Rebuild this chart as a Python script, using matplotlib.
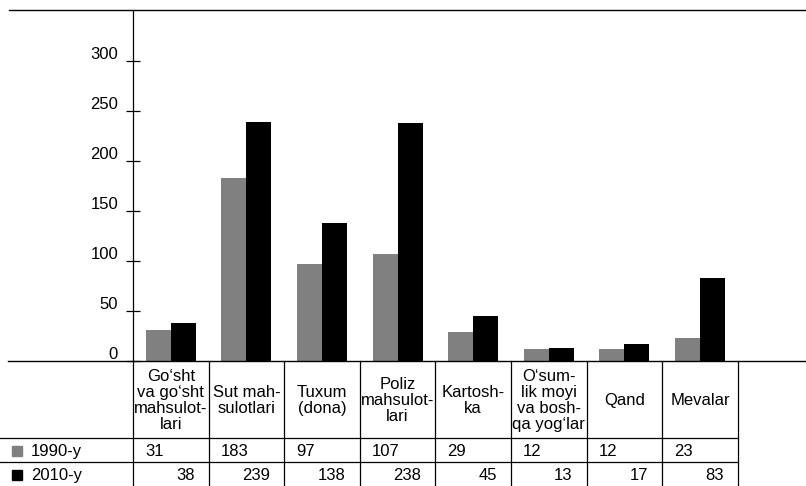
"""Grouped bar chart with a data table underneath (1990 vs 2010)."""
import matplotlib
matplotlib.use("Agg")
import matplotlib.pyplot as plt
from matplotlib.lines import Line2D
from matplotlib.transforms import ScaledTranslation, blended_transform_factory

plt.rcParams["font.family"] = ["Liberation Sans", "DejaVu Sans"]
NARROW = ["Liberation Sans Narrow", "Liberation Sans", "DejaVu Sans"]

categories = [
    "Go‘sht\nva go‘sht\nmahsulot-\nlari",
    "Sut mah-\nsulotlari",
    "Tuxum\n(dona)",
    "Poliz\nmahsulot-\nlari",
    "Kartosh-\nka",
    "O‘sum-\nlik moyi\nva bosh-\nqa yog‘lar",
    "Qand",
    "Mevalar",
]
values_1990 = [31, 183, 97, 107, 29, 12, 12, 23]
values_2010 = [38, 239, 138, 238, 45, 13, 17, 83]
series_labels = ["1990-y", "2010-y"]
yticks = [0, 50, 100, 150, 200, 250, 300]

GRAY = "#808080"
BLACK = "#000000"
W, H, DPI = 806, 486, 100

fig = plt.figure(figsize=(W / DPI, H / DPI), dpi=DPI)
fig.patch.set_facecolor("white")

# plot area: x from 133px to right edge, y from 10px to 361px
ax = fig.add_axes([133 / W, (H - 361) / H, 1 - 133 / W, 351 / H])
n = len(categories)
x = [i + 0.5 for i in range(n)]
bw = 0.33
ax.bar([v - bw / 2 for v in x], values_1990, width=bw, color=GRAY, linewidth=0)
ax.bar([v + bw / 2 for v in x], values_2010, width=bw, color=BLACK, linewidth=0)
ax.set_xlim(0, 673 / 75.6)
ax.set_ylim(0, 351)
ax.set_xticks([])
ax.set_yticks(yticks)
ax.set_yticklabels([str(t) for t in yticks], fontsize=12)
ax.tick_params(axis="y", direction="inout", length=10, width=0.9, pad=5)
for lab in ax.get_yticklabels():
    lab.set_transform(lab.get_transform() + ScaledTranslation(-1 / DPI, 8 / DPI, fig.dpi_scale_trans))
for s in ["top", "right", "bottom"]:
    ax.spines[s].set_visible(False)
ax.spines["left"].set_linewidth(0.9)

# frame lines across the figure
fig.add_artist(Line2D([9 / W, 1], [(H - 10) / H] * 2, color="black", lw=1.0, transform=fig.transFigure))
fig.add_artist(Line2D([8 / W, 1], [(H - 361) / H] * 2, color="black", lw=1.0, transform=fig.transFigure))

# table below the bars, sharing the category scale
tab = fig.add_axes([133 / W, 0, 1 - 133 / W, 125 / H], sharex=ax)
tab.set_ylim(125, 0)
tab.axis("off")
row_edges = [0, 77, 101, 125]

for i in range(n + 1):
    tab.plot([i, i], [0, 125], color="black", lw=0.9, clip_on=False)
fx = blended_transform_factory(fig.transFigure, tab.transData)
for y in row_edges[1:3]:
    tab.plot([0, n], [y, y], color="black", lw=0.9, clip_on=False)
    tab.plot([0, 133 / W], [y, y], color="black", lw=0.9, clip_on=False, transform=fx)

for i, cat in enumerate(categories):
    tab.text(x[i], (row_edges[0] + row_edges[1]) / 2 + 1, cat, ha="center", va="center",
             fontsize=12, linespacing=1.1, family=NARROW)

left_pad = tab.transData + ScaledTranslation(12 / DPI, 0, fig.dpi_scale_trans)
right_pad = tab.transData + ScaledTranslation(-14 / DPI, 0, fig.dpi_scale_trans)
y1 = (row_edges[1] + row_edges[2]) / 2 + 1
y2 = (row_edges[2] + row_edges[3]) / 2 + 1
for i in range(n):
    tab.text(i, y1, str(values_1990[i]), ha="left", va="center", fontsize=12, transform=left_pad)
    tab.text(i + 1, y2, str(values_2010[i]), ha="right", va="center", fontsize=12, transform=right_pad)

# row labels with colour keys
for y, col, lab in [(y1, GRAY, series_labels[0]), (y2, BLACK, series_labels[1])]:
    tab.plot([17 / W], [y], marker="s", markersize=7.5, color=col, clip_on=False, transform=fx)
    tab.text(31 / W, y, lab, ha="left", va="center", fontsize=12, transform=fx)

fig.savefig("out.png", dpi=DPI)
